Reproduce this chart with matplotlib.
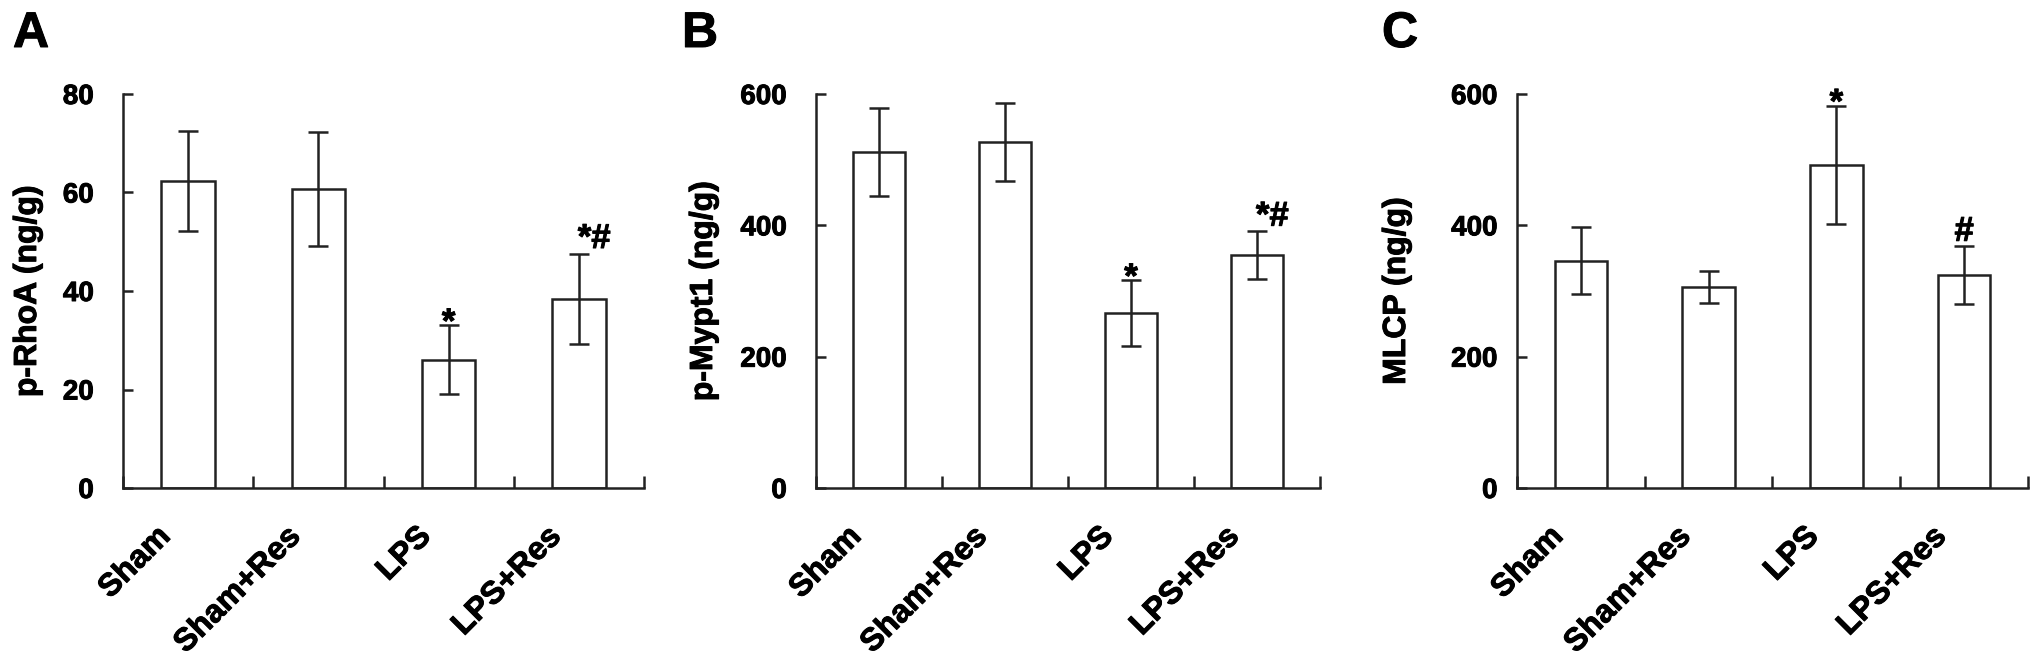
import matplotlib
matplotlib.use('Agg')
import matplotlib.pyplot as plt
import matplotlib.patheffects as pe
from matplotlib.transforms import ScaledTranslation
import numpy as np

plt.rcParams['font.family'] = ['Liberation Sans', 'DejaVu Sans']
plt.rcParams['font.weight'] = 'bold'

groups = ['Sham', 'Sham+Res', 'LPS', 'LPS+Res']

rhoa_mean = [62.3, 60.7, 26.0, 38.4]
rhoa_err = [10.1, 11.6, 7.0, 9.2]
rhoa_marks = ['', '', '*', '*#']

mypt_mean = [512, 527, 266, 355]
mypt_err = [67, 60, 50, 36]
mypt_marks = ['', '', '*', '*#']

mlcp_mean = [346, 306, 492, 324]
mlcp_err = [51, 25, 90, 44]
mlcp_marks = ['', '', '*', '#']

panels = [
    ('A', 'p-RhoA (ng/g)', rhoa_mean, rhoa_err, rhoa_marks, 80, 20),
    ('B', 'p-Mypt1 (ng/g)', mypt_mean, mypt_err, mypt_marks, 600, 200),
    ('C', 'MLCP (ng/g)', mlcp_mean, mlcp_err, mlcp_marks, 600, 200),
]

W, H = 2031, 664
fig = plt.figure(figsize=(W / 100, H / 100), dpi=100)

# axes boxes in pixels: left, right ; top/bottom shared
boxes = [(123, 644), (816, 1320), (1517, 2028)]
top_px, bot_px = 94, 488
letter_x = [13, 682, 1382]
ylab_right = [43, 719, 1412]
ypads = [21, 21, 14]

edge = '#222222'
heavy = [pe.withStroke(linewidth=0.7, foreground='black')]
x = np.arange(len(groups))

for k, (letter, ylab, mean, err, marks, ymax, ystep) in enumerate(panels):
    l, r = boxes[k]
    ax = fig.add_axes([l / W, 1 - bot_px / H, (r - l) / W, (bot_px - top_px) / H])
    ax.bar(x, mean, width=0.41, color='white', edgecolor=edge, linewidth=1.8, zorder=2)
    ax.errorbar(x, mean, yerr=err, fmt='none', ecolor=edge, elinewidth=1.8,
                capsize=7, capthick=1.8, zorder=3)
    for i, m in enumerate(marks):
        if not m:
            continue
        off = 4 if '#' in m else -5
        dx = 11 if m == '*#' else 0
        ax.annotate(m, xy=(x[i], mean[i] + err[i]), xytext=(dx, off),
                    textcoords='offset points', ha='center', va='baseline',
                    fontsize=25, fontweight='bold', path_effects=heavy)

    ax.set_xlim(-0.5, 3.5)
    ax.set_ylim(0, ymax)
    ax.set_yticks(np.arange(0, ymax + 1, ystep))
    ax.set_xticks(x)
    ax.set_xticks(np.arange(-0.5, 4, 1.0), minor=True)
    ax.set_xticklabels(groups, rotation=45, ha='right', va='center',
                       rotation_mode='anchor', fontsize=23, fontweight='bold')
    ax.tick_params(axis='x', which='major', length=0, pad=0)
    ax.tick_params(axis='x', which='minor', direction='in', length=9,
                   width=1.8, color=edge)
    ax.tick_params(axis='y', direction='in', length=7, width=1.8, color=edge,
                   labelsize=20, pad=ypads[k])
    for lab in ax.get_yticklabels():
        lab.set_fontweight('bold')
        lab.set_path_effects(heavy)
    for lab in ax.get_xticklabels():
        lab.set_path_effects(heavy)
        lab.set_transform(lab.get_transform() +
                          ScaledTranslation(-22 / 100, -44 / 100, fig.dpi_scale_trans))

    for s in ['top', 'right']:
        ax.spines[s].set_visible(False)
    for s in ['left', 'bottom']:
        ax.spines[s].set_color(edge)
        ax.spines[s].set_linewidth(1.8)

    ax.set_ylabel(ylab, fontsize=23, fontweight='bold', path_effects=heavy)
    ax.yaxis.set_label_coords((ylab_right[k] - l) / (r - l), 0.5)

    fig.text(letter_x[k] / W, 1 - 11 / H, letter, ha='left', va='top',
             fontsize=36, fontweight='bold', path_effects=heavy)

fig.savefig('out.png', dpi=100)
